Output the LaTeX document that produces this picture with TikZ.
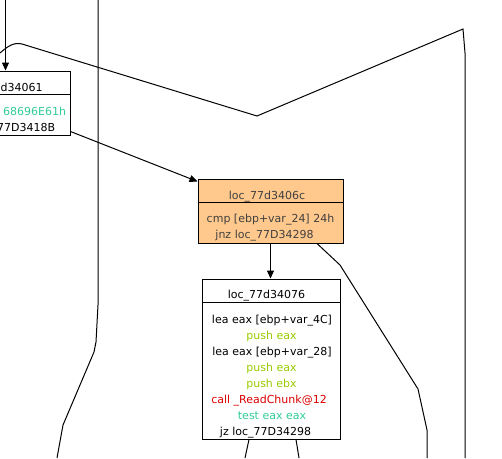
\documentclass[tikz,border=0pt]{standalone}
\usepackage{fontspec}
\setmainfont{DejaVu Sans}
\usetikzlibrary{arrows.meta}
\definecolor{orangefill}{RGB}{255,200,140}
\definecolor{asmgreen}{RGB}{153,204,0}
\definecolor{asmteal}{RGB}{51,204,153}
\definecolor{asmred}{RGB}{220,0,0}
\definecolor{asmgray}{RGB}{64,64,64}
\begin{document}
\begin{tikzpicture}[x=1pt,y=-1pt,
  blk/.style={draw=black, line width=1pt, rectangle, inner sep=0pt},
  wire/.style={draw=black, line width=1pt},
  arr/.style={wire, -{Triangle[length=8pt,width=7pt]}},
  lbl/.style={anchor=base, inner sep=0pt, font=\fontsize{11}{13}\selectfont}]
\useasboundingbox (0,0) rectangle (502,458);
\fill[white] (0,0) rectangle (502,458);

% free lines in the background
\coordinate (v0) at (98,0);
\coordinate (v1) at (57,458);
\draw[wire] (v0) -- (98,305) -- (96,342) -- (94,352) -- (63,425) -- (v1);
\coordinate (c0) at (0,53);
\coordinate (c1) at (465,458);
\draw[wire] (c0) .. controls (8,46) and (14,42) .. (22,44) -- (257,116) -- (463,29) -- (465,53) -- (c1);

% boxes
\node[blk, minimum width=140pt, minimum height=64pt] (A) at (0,103) {};
\draw[line width=1pt] ([yshift=-24pt]A.north west) -- ([yshift=-24pt]A.north east);
\node[blk, fill=orangefill, minimum width=145pt, minimum height=64pt] (O) at (270.5,211) {};
\draw[line width=1pt] ([yshift=-24pt]O.north west) -- ([yshift=-24pt]O.north east);
\node[blk, fill=white, minimum width=138pt, minimum height=160pt] (W) at (271,359) {};
\draw[line width=1pt] ([yshift=-24pt]W.north west) -- ([yshift=-24pt]W.north east);

% texts of box A
\node[lbl, anchor=base west] (a1) at (0.5,91) {d34061};
\node[lbl, anchor=base west, text=asmteal] (a2) at (3,115) {68696E61h};
\node[lbl, anchor=base west] (a3) at (-3,131) {77D3418B};

% texts of box O
\node[lbl, text=asmgray] (o1) at (267,199) {loc\_77d3406c};
\node[lbl, text=asmgray] (o2) at (270.5,222) {cmp [ebp+var\_24] 24h};
\node[lbl, text=asmgray] (o3) at (264.5,238) {jnz loc\_77D34298};

% texts of box W
\node[lbl] (w1) at (266.5,298) {loc\_77d34076};
\node[lbl] (w2) at (272,323) {lea eax [ebp+var\_4C]};
\node[lbl, text=asmgreen] (w3) at (271.5,339) {push eax};
\node[lbl] (w4) at (272,355) {lea eax [ebp+var\_28]};
\node[lbl, text=asmgreen] (w5) at (271.5,371) {push eax};
\node[lbl, text=asmgreen] (w6) at (271.5,387) {push ebx};
\node[lbl, text=asmred] (w7) at (269,403) {call \_ReadChunk@12};
\node[lbl, text=asmteal] (w8) at (272,419) {test eax eax};
\node[lbl] (w9) at (265.5,435) {jz loc\_77D34298};

% connectors
\coordinate (pA) at (5.5,0);
\draw[arr] (pA) -- (pA |- A.north);
\draw[arr] ([yshift=4pt]A.south east) -- ([yshift=-3pt]O.north west);
\draw[arr] (O.south) -- (O.south |- W.north);
\coordinate (r1) at (427,458);
\draw[wire] ([xshift=46.5pt]O.south) -- (340,265) -- (418,389) -- (427,430) -- (r1);
\coordinate (b1) at (245,458);
\coordinate (b2) at (299,458);
\draw[wire] ([xshift=-22pt]W.south) -- (b1);
\draw[wire] ([xshift=25pt]W.south) -- (b2);
\end{tikzpicture}
\end{document}
